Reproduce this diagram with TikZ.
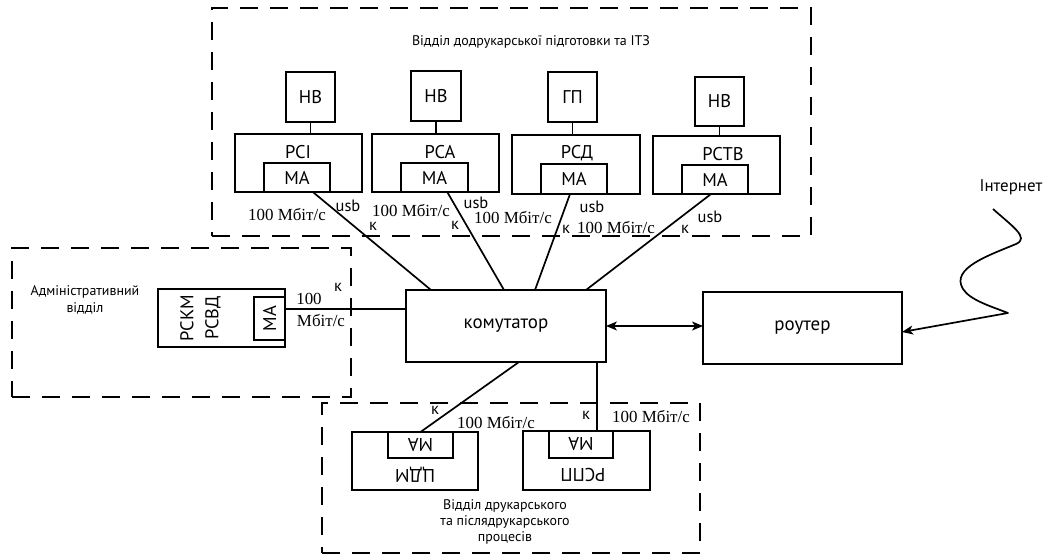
\documentclass[tikz,border=0pt]{standalone}
\usepackage{fontspec}
\setmainfont{Liberation Serif}
\newfontfamily\ptsans{PT Sans}
\usetikzlibrary{arrows.meta,calc}
% rectangle node given its top-left corner, width and height
\newcommand\rectnode[6][box]{\node[#1, minimum width=#5bp, minimum height=#6bp] (#2) at (#3,#4) {};}
\begin{document}
\begin{tikzpicture}[x=1bp,y=-1bp,
  box/.style={draw, line width=1.7bp, inner sep=0pt, outer sep=0pt, anchor=north west},
  group/.style={draw, line width=1.7bp, dash pattern=on 18bp off 12bp, inner sep=0pt, outer sep=0pt, anchor=north west},
  wire/.style={line width=1.7bp},
  lbl/.style={font=\ptsans\fontsize{18.5}{20}\selectfont, inner sep=0pt},
  big/.style={font=\ptsans\fontsize{19}{22}\selectfont, inner sep=0pt},
  small/.style={font=\ptsans\fontsize{14}{16.5}\selectfont, inner sep=0pt, align=center},
  tag/.style={font=\ptsans\fontsize{16.5}{17}\selectfont, inner sep=0pt},
  rate/.style={font=\fontsize{17}{19}\selectfont, inner sep=0pt},
  tip/.style={-{Stealth[length=11bp,width=9bp,inset=3bp]}},
  dtip/.style={{Stealth[length=11bp,width=9bp,inset=3bp]}-{Stealth[length=11bp,width=9bp,inset=3bp]}}
]
\useasboundingbox (0,0) rectangle (1045,556);

% department frames
\rectnode[group]{gprep}{212}{8}{599}{228}
\rectnode[group]{gadm}{12}{248}{339}{149}
\rectnode[group]{gprint}{322}{403}{378}{150}

\node[small] (tprep) at (531,42) {Відділ додрукарської підготовки та ІТЗ};
\node[small] (tadm) at (85,300) {Адміністративний\\відділ};
\node[small] (tprint) at (505,522) {Відділ друкарського\\та післядрукарського\\процесів};

% prepress workstations
\rectnode{hv1}{286}{72}{49}{50}
\rectnode{pci}{235}{134}{127}{58}
\rectnode{ma1}{264}{163}{66}{29}
\rectnode{hv2}{411}{71}{50}{50}
\rectnode{pca}{372}{134}{127}{58}
\rectnode{ma2}{401}{163}{67}{29}
\rectnode{gp}{548}{72}{49}{50}
\rectnode{rsd}{512}{135}{128}{59}
\rectnode{ma3}{541}{164}{66}{30}
\rectnode{hv4}{695}{77}{49}{49}
\rectnode{rstv}{653}{136}{127}{58}
\rectnode{ma4}{682}{165}{66}{29}

\node[lbl] (thv1) at (hv1.center) {НВ};
\node[lbl] (thv2) at (hv2.center) {НВ};
\node[lbl] (tgp) at (gp.center) {ГП};
\node[lbl] (thv4) at (hv4.center) {НВ};
\node[lbl] (tpci) at (298,152) {РСІ};
\node[lbl] (tpca) at (440,152) {РСА};
\node[lbl] (trsd) at (577,153) {РСД};
\node[lbl] (trstv) at (723,154) {РСТВ};
\node[lbl] (tma1) at (ma1.center) {МА};
\node[lbl] (tma2) at (ma2.center) {МА};
\node[lbl] (tma3) at (ma3.center) {МА};
\node[lbl] (tma4) at (ma4.center) {МА};

\draw[wire] (hv1.south) -- (hv1.south |- pci.north);
\draw[wire] (hv2.south) -- (hv2.south |- pca.north);
\draw[wire] (gp.south) -- (gp.south |- rsd.north);
\draw[wire] (hv4.south) -- (hv4.south |- rstv.north);

% switch and router
\rectnode{sw}{406}{290}{200}{72}
\rectnode{rt}{703}{292}{199}{72}
\node[big] (tsw) at (sw.center) {комутатор};
\node[big] (trt) at (rt.center) {роутер};

% administrative workstation
\rectnode{adm}{158}{289}{127}{58}
\rectnode{ma5}{254}{297}{31}{43}
\node[lbl, rotate=90] (trskm) at (187,318) {РСКМ};
\node[lbl, rotate=90] (trsvd) at (213,318) {РСВД};
\node[lbl, rotate=90] (tma5) at (ma5.center) {МА};

% printing department workstations
\rectnode{cdm}{352}{432}{126}{58}
\rectnode{ma6}{388}{432}{65}{26}
\rectnode{rspp}{523}{431}{127}{59}
\rectnode{ma7}{549}{431}{64}{27}
\node[lbl, rotate=180] (tcdm) at (415,475) {ЦДМ};
\node[lbl, rotate=180] (tma6) at (ma6.center) {МА};
\node[lbl, rotate=180] (trspp) at (583,475) {РСПП};
\node[lbl, rotate=180] (tma7) at (ma7.center) {МА};

% links to the switch
\draw[wire] ($(ma1.south west)!0.74!(ma1.south east)$) -- ($(sw.north west)!0.125!(sw.north east)$);
\draw[wire] ($(ma2.south west)!0.69!(ma2.south east)$) -- ($(sw.north west)!0.49!(sw.north east)$);
\draw[wire] ($(ma3.south west)!0.44!(ma3.south east)$) -- ($(sw.north west)!0.645!(sw.north east)$);
\draw[wire] ($(ma4.south west)!0.44!(ma4.south east)$) -- ($(sw.north west)!0.9!(sw.north east)$);
\draw[wire] ($(ma5.north east)!0.28!(ma5.south east)$) coordinate (a5) -- (a5 -| sw.west);
\draw[wire] (ma6.north) -- ($(sw.south west)!0.565!(sw.south east)$);
\draw[wire] ($(ma7.north west)!0.75!(ma7.north east)$) coordinate (a7) -- (a7 |- sw.south);
\draw[wire, dtip] (sw.east) -- (sw.east -| rt.west);

% internet line
\coordinate (inet) at (993,209);
\node[font=\ptsans\fontsize{17}{19}\selectfont, inner sep=0pt] (tinet) at (1011,187) {Інтернет};
\draw[wire, tip, line join=round] (inet) .. controls (1012,226) and (1030,238) .. (1016,244)
  .. controls (990,255) and (950,268) .. (963,289)
  .. controls (970,300) and (990,306) .. (1008,313)
  -- ($(rt.east)+(0,4)$);

% link labels
\node[rate] (r1) at (287,215) {100 Мбіт/с};
\node[tag] (u1) at (348,206) {usb};
\node[tag] (k1) at (373,226) {к};
\node[rate] (r2) at (411,211) {100 Мбіт/с};
\node[tag] (k2) at (455,225) {к};
\node[tag] (u2) at (476,203) {usb};
\node[rate] (r3) at (513,218) {100 Мбіт/с};
\node[tag] (u3) at (592,207) {usb};
\node[tag] (k3) at (566,229) {к};
\node[rate] (r4) at (616,228) {100 Мбіт/с};
\node[tag] (k4) at (685,229) {к};
\node[tag] (u4) at (710,217) {usb};
\node[rate] (r5a) at (309,299) {100};
\node[rate] (r5b) at (321,321) {Мбіт/с};
\node[tag] (k5) at (338,287) {к};
\node[tag] (k6) at (435,410) {к};
\node[rate] (r6) at (496,423) {100 Мбіт/с};
\node[tag] (k7) at (586,415) {к};
\node[rate] (r7) at (651,417) {100 Мбіт/с};
\end{tikzpicture}
\end{document}
